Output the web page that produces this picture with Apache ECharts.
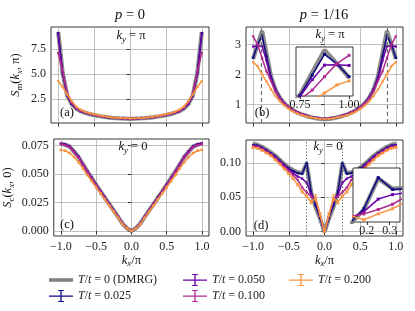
<!DOCTYPE html>
<html><head><meta charset="utf-8">
<script src="https://cdn.jsdelivr.net/npm/echarts@6/dist/echarts.min.js"></script>
<style>html,body{margin:0;padding:0;background:#fff}#c{width:415px;height:311px}</style>
</head><body><div id="c"></div>
<script>
// ---------------- DATA ----------------
const kx = [-1,-0.9375,-0.875,-0.8125,-0.75,-0.6875,-0.625,-0.5625,-0.5,-0.4375,-0.375,-0.3125,-0.25,-0.1875,-0.125,-0.0625,0,0.0625,0.125,0.1875,0.25,0.3125,0.375,0.4375,0.5,0.5625,0.625,0.6875,0.75,0.8125,0.875,0.9375,1];
const seriesNames = ['T/t = 0 (DMRG)','T/t = 0.025','T/t = 0.050','T/t = 0.100','T/t = 0.200'];

// (a) p=0, ky=pi : S_m(kx,pi)
const aDMRG = [9.2,5.1,2.85,2.0,1.55,1.28,1.11,0.99,0.89,0.8,0.73,0.67,0.62,0.58,0.55,0.53,0.52,0.53,0.55,0.58,0.62,0.67,0.73,0.8,0.89,0.99,1.11,1.28,1.55,2.0,2.85,5.1,9.2];
const aT025 = [9.1,5.1,2.85,2.0,1.56,1.29,1.12,1.0,0.9,0.81,0.74,0.68,0.63,0.59,0.56,0.54,0.53,0.54,0.56,0.59,0.63,0.68,0.74,0.81,0.9,1.0,1.12,1.29,1.56,2.0,2.85,5.1,9.1];
const aT050 = [9.0,5.1,2.88,2.02,1.57,1.29,1.12,1.0,0.9,0.81,0.74,0.68,0.63,0.59,0.56,0.54,0.53,0.54,0.56,0.59,0.63,0.68,0.74,0.81,0.9,1.0,1.12,1.29,1.57,2.02,2.88,5.1,9.0];
const aT100 = [7.1,5.25,3.05,2.12,1.62,1.33,1.15,1.02,0.92,0.83,0.75,0.69,0.64,0.6,0.57,0.55,0.54,0.55,0.57,0.6,0.64,0.69,0.75,0.83,0.92,1.02,1.15,1.33,1.62,2.12,3.05,5.25,7.1];
const aT200 = [4.3,3.7,2.95,2.3,1.74,1.42,1.22,1.08,0.97,0.87,0.79,0.72,0.66,0.62,0.59,0.57,0.56,0.57,0.59,0.62,0.66,0.72,0.79,0.87,0.97,1.08,1.22,1.42,1.74,2.3,2.95,3.7,4.3];

// (b) p=1/16, ky=pi
const bDMRG = [2.52,3.0,3.45,2.7,1.93,1.5,1.22,1.03,0.9,0.8,0.72,0.66,0.61,0.57,0.54,0.52,0.51,0.52,0.54,0.57,0.61,0.66,0.72,0.8,0.9,1.03,1.22,1.5,1.93,2.7,3.45,3.0,2.52];
const bT025 = [2.55,2.99,3.3,2.6,1.92,1.5,1.23,1.04,0.91,0.81,0.73,0.67,0.62,0.58,0.55,0.53,0.52,0.53,0.55,0.58,0.62,0.67,0.73,0.81,0.91,1.04,1.23,1.5,1.92,2.6,3.3,2.99,2.55];
const bT050 = [2.93,2.95,2.94,2.45,1.88,1.48,1.22,1.04,0.91,0.81,0.73,0.67,0.62,0.58,0.55,0.53,0.52,0.53,0.55,0.58,0.62,0.67,0.73,0.81,0.91,1.04,1.22,1.48,1.88,2.45,2.94,2.95,2.93];
const bT100 = [3.27,2.99,2.55,2.1,1.78,1.44,1.2,1.03,0.91,0.81,0.73,0.67,0.62,0.58,0.55,0.53,0.52,0.53,0.55,0.58,0.62,0.67,0.73,0.81,0.91,1.03,1.2,1.44,1.78,2.1,2.55,2.99,3.27];
const bT200 = [2.41,2.27,2.0,1.76,1.5,1.28,1.1,0.96,0.85,0.76,0.69,0.64,0.6,0.57,0.54,0.52,0.51,0.52,0.54,0.57,0.6,0.64,0.69,0.76,0.85,0.96,1.1,1.28,1.5,1.76,2.0,2.27,2.41];

// (c) p=0, ky=0 : S_c(kx,0)
const cDMRG = [0.0764,0.0756,0.074,0.0696,0.0649,0.0585,0.0522,0.0464,0.0404,0.0347,0.0291,0.0234,0.0179,0.0122,0.0064,0.0024,0,0.0024,0.0064,0.0122,0.0179,0.0234,0.0291,0.0347,0.0404,0.0464,0.0522,0.0585,0.0649,0.0696,0.074,0.0756,0.0764];
const cT025 = [0.0765,0.0757,0.0741,0.0697,0.065,0.0586,0.0523,0.0465,0.0405,0.0348,0.0292,0.0235,0.018,0.0123,0.0065,0.0025,0,0.0025,0.0065,0.0123,0.018,0.0235,0.0292,0.0348,0.0405,0.0465,0.0523,0.0586,0.065,0.0697,0.0741,0.0757,0.0765];
const cT050 = [0.0767,0.0759,0.0743,0.0698,0.0651,0.0587,0.0524,0.0466,0.0406,0.0349,0.0293,0.0236,0.0181,0.0124,0.0066,0.0025,0,0.0025,0.0066,0.0124,0.0181,0.0236,0.0293,0.0349,0.0406,0.0466,0.0524,0.0587,0.0651,0.0698,0.0743,0.0759,0.0767];
const cT100 = [0.0761,0.0752,0.0734,0.069,0.0644,0.0581,0.0519,0.0461,0.0402,0.0345,0.0289,0.0232,0.0177,0.0121,0.0064,0.0025,0,0.0025,0.0064,0.0121,0.0177,0.0232,0.0289,0.0345,0.0402,0.0461,0.0519,0.0581,0.0644,0.069,0.0734,0.0752,0.0761];
const cT200 = [0.071,0.0703,0.0683,0.0648,0.0603,0.0548,0.049,0.0437,0.0383,0.033,0.0277,0.0222,0.017,0.0115,0.006,0.0022,0,0.0022,0.006,0.0115,0.017,0.0222,0.0277,0.033,0.0383,0.0437,0.049,0.0548,0.0603,0.0648,0.0683,0.0703,0.071];
const cErr200 = [0.0006,0.0006,0.0006,0.0006,0.0006,0.0006,0.0006,0.0006,0.0006,0.0006,0.0006,0.0005,0.0005,0.0004,0.0004,0.0003,0.0001,0.0003,0.0004,0.0004,0.0005,0.0005,0.0006,0.0006,0.0006,0.0006,0.0006,0.0006,0.0006,0.0006,0.0006,0.0006,0.0006];

// (d) p=1/16, ky=0
const dDMRG = [0.128,0.126,0.123,0.119,0.115,0.11,0.104,0.098,0.093,0.089,0.086,0.085,0.099,0.057,0.036,0.019,0,0.019,0.036,0.057,0.099,0.085,0.086,0.089,0.093,0.098,0.104,0.11,0.115,0.119,0.123,0.126,0.128];
const dT025 = [0.126,0.125,0.122,0.118,0.114,0.109,0.103,0.097,0.092,0.088,0.085,0.084,0.1,0.058,0.038,0.02,0,0.02,0.038,0.058,0.1,0.084,0.085,0.088,0.092,0.097,0.103,0.109,0.114,0.118,0.122,0.125,0.126];
const dT050 = [0.125,0.124,0.121,0.117,0.113,0.108,0.102,0.096,0.09,0.085,0.08,0.077,0.071,0.054,0.045,0.023,0,0.023,0.045,0.054,0.071,0.077,0.08,0.085,0.09,0.096,0.102,0.108,0.113,0.117,0.121,0.124,0.125];
const dT100 = [0.124,0.123,0.12,0.116,0.112,0.106,0.1,0.094,0.088,0.082,0.075,0.064,0.057,0.051,0.047,0.024,0,0.024,0.047,0.051,0.057,0.064,0.075,0.082,0.088,0.094,0.1,0.106,0.112,0.116,0.12,0.123,0.124];
const dT200 = [0.122,0.121,0.118,0.114,0.11,0.104,0.098,0.091,0.084,0.077,0.068,0.058,0.051,0.043,0.049,0.025,0,0.025,0.049,0.043,0.051,0.058,0.068,0.077,0.084,0.091,0.098,0.104,0.11,0.114,0.118,0.121,0.122];
const dErr200 = [0.001,0.001,0.001,0.001,0.001,0.001,0.001,0.001,0.001,0.001,0.0015,0.0015,0.0015,0.0025,0.0045,0.0025,0.0005,0.0025,0.0045,0.0025,0.0015,0.0015,0.0015,0.001,0.001,0.001,0.001,0.001,0.001,0.001,0.001,0.001,0.001];

// reference lines and ticks
const stripeLines = [-0.875, 0.875];
const chargeLines = [-0.25, 0.25];
const xTicks = [-1, -0.5, 0, 0.5, 1];
const aTicks = [2.5, 5.0, 7.5];
const bTicks = [1, 2, 3];
const cTicks = [0, 0.025, 0.05, 0.075];
const dTicks = [0, 0.05, 0.10];
const insetBTicks = [0.75, 1.0];
const insetDTicks = [0.2, 0.3];

// ---------------- STYLE ----------------
const FONT = 'Liberation Serif';
const colors = ['#808080','#0d0887','#6a00a8','#b12a90','#f89540'];
const FS = 12;
function mkRich(sz){
  return {
    i:{fontFamily:FONT,fontStyle:'italic',fontSize:sz,lineHeight:sz+4,color:'#111'},
    n:{fontFamily:FONT,fontSize:sz,lineHeight:sz+4,color:'#111'},
    si:{fontFamily:FONT,fontStyle:'italic',fontSize:sz*0.7,lineHeight:8,verticalAlign:'bottom',color:'#111'},
    s:{fontFamily:FONT,fontSize:sz*0.7,lineHeight:8,verticalAlign:'bottom',color:'#111'}
  };
}
const rich = mkRich(12.5);
const richT = mkRich(14.5);
const fmtMinus = s => s.replace('-', '\u2212');

function xAxisMain(gi, showLabel, name){
  return {type:'value', gridIndex:gi, min:-1.1, max:1.1,
    axisLine:{show:false},
    axisTick:{show:true, customValues:xTicks, length:3.5, lineStyle:{color:'#222', width:0.9}},
    axisLabel:{show:showLabel, customValues:xTicks, margin:5, fontFamily:FONT, fontSize:FS, color:'#222', formatter:v=>fmtMinus(v.toFixed(1))},
    splitLine:{show:true, lineStyle:{color:'#b0b0b0', width:0.8}},
    name: name || '', nameLocation:'middle', nameGap:16,
    nameTextStyle:{rich:rich}
  };
}
function yAxisMain(gi, min, max, ticks, dec, name, gap){
  return {type:'value', gridIndex:gi, min:min, max:max,
    axisLine:{show:false},
    axisTick:{show:true, customValues:ticks, length:3.5, lineStyle:{color:'#222', width:0.9}},
    axisLabel:{show:true, customValues:ticks, margin:5, fontFamily:FONT, fontSize:FS, color:'#222', formatter:v=>fmtMinus(v.toFixed(dec))},
    splitLine:{show:true, lineStyle:{color:'#b0b0b0', width:0.8}},
    name: name || '', nameLocation:'middle', nameGap:gap || 30,
    nameTextStyle:{rich:rich}
  };
}

const grids = [
  {left:51, top:27, width:158, height:96},
  {left:246, top:27, width:157, height:96},
  {left:51, top:139, width:158, height:97},
  {left:246, top:140, width:157, height:96},
  {left:296, top:47, width:57, height:49, zlevel:1},
  {left:353, top:168, width:47, height:54, zlevel:1}
].map(g => Object.assign({show:true, borderColor:'#222', borderWidth:0.9, backgroundColor: g.zlevel ? '#fff' : 'transparent', containLabel:false}, g));

const xAxes = [
  xAxisMain(0, false),
  xAxisMain(1, false),
  xAxisMain(2, true, '{i|k}{si|x}{n|/π}'),
  xAxisMain(3, true, '{i|k}{si|x}{n|/π}'),
  {type:'value', gridIndex:4, min:0.73, max:1.02, zlevel:1,
    axisLine:{show:false}, splitLine:{show:false},
    axisTick:{show:true, customValues:insetBTicks, length:3, lineStyle:{color:'#222', width:0.9}},
    axisLabel:{show:true, customValues:insetBTicks, margin:3, fontFamily:FONT, fontSize:FS, color:'#222', formatter:v=>v.toFixed(2)}},
  {type:'value', gridIndex:5, min:0.14, max:0.345, zlevel:1,
    axisLine:{show:false}, splitLine:{show:false},
    axisTick:{show:true, customValues:insetDTicks, length:3, lineStyle:{color:'#222', width:0.9}},
    axisLabel:{show:true, customValues:insetDTicks, margin:3, fontFamily:FONT, fontSize:FS, color:'#222', formatter:v=>v.toFixed(1)}}
];
const yAxes = [
  yAxisMain(0, 0.1, 9.7, aTicks, 1, '{i|S}{s|m}{n|(}{i|k}{si|x}{n|, π)}', 27),
  yAxisMain(1, 0.38, 3.58, bTicks, 0),
  yAxisMain(2, -0.0044, 0.0806, cTicks, 3, '{i|S}{s|c}{n|(}{i|k}{si|x}{n|, 0)}', 38),
  yAxisMain(3, -0.0062, 0.133, dTicks, 2),
  {type:'value', gridIndex:4, min:1.9, max:3.55, zlevel:1, axisLine:{show:false}, axisTick:{show:false}, axisLabel:{show:false}, splitLine:{show:false}},
  {type:'value', gridIndex:5, min:0.04, max:0.113, zlevel:1, axisLine:{show:false}, axisTick:{show:false}, axisLabel:{show:false}, splitLine:{show:false}}
];

const panelData = [
  [aDMRG,aT025,aT050,aT100,aT200],
  [bDMRG,bT025,bT050,bT100,bT200],
  [cDMRG,cT025,cT050,cT100,cT200],
  [dDMRG,dT025,dT050,dT100,dT200],
  [bDMRG,bT025,bT050,bT100,bT200],
  [dDMRG,dT025,dT050,dT100,dT200]
];
const series = [];
panelData.forEach((arrs, gi) => {
  const inset = gi >= 4;
  arrs.forEach((vals, si) => {
    const s = {
      type:'line', name:seriesNames[si], xAxisIndex:gi, yAxisIndex:gi,
      data: kx.map((x,i)=>[x, vals[i]]),
      animation:false, silent:true, clip:true,
      zlevel: inset ? 1 : 0, z: 2 + si,
      color: colors[si]
    };
    if (si === 0) {
      s.showSymbol = false; s.symbol = 'none';
      s.lineStyle = {width:4.2, color:'#7d7d7d', opacity:0.9};
    } else {
      s.symbol = 'rect'; s.symbolSize = inset ? 3 : 2.2; s.showSymbol = true;
      s.lineStyle = {width:1.5, color:colors[si]};
      s.itemStyle = {color:colors[si]};
    }
    if (si === 0 && (gi === 1 || gi === 4)) {
      s.markLine = {silent:true, symbol:'none', animation:false, label:{show:false},
        lineStyle:{type:[4,3], color:'#6e6e6e', width:1.2},
        data: stripeLines.map(v=>({xAxis:v}))};
    }
    if (si === 0 && (gi === 3 || gi === 5)) {
      s.markLine = {silent:true, symbol:'none', animation:false, label:{show:false},
        lineStyle:{type:[1.2,2], color:'#555', width:1},
        data: chargeLines.map(v=>({xAxis:v}))};
    }
    series.push(s);
  });
});

function errSeries(gi, vals, errs, color, cap){
  return {type:'custom', xAxisIndex:gi, yAxisIndex:gi, silent:true, animation:false, clip:true,
    z:8,
    data: kx.map((x,i)=>[x, vals[i]-errs[i], vals[i]+errs[i]]),
    encode:{x:0, y:[1,2]},
    renderItem:(params, api)=>{
      const x = api.value(0);
      const lo = api.coord([x, api.value(1)]);
      const hi = api.coord([x, api.value(2)]);
      const st = {stroke:color, lineWidth:1};
      return {type:'group', children:[
        {type:'line', shape:{x1:lo[0], y1:lo[1], x2:hi[0], y2:hi[1]}, style:st},
        {type:'line', shape:{x1:lo[0]-cap, y1:lo[1], x2:lo[0]+cap, y2:lo[1]}, style:st},
        {type:'line', shape:{x1:hi[0]-cap, y1:hi[1], x2:hi[0]+cap, y2:hi[1]}, style:st}
      ]};
    }};
}
series.push(errSeries(2, cT200, cErr200, colors[4], 1.2));
series.push(errSeries(3, dT200, dErr200, colors[4], 1.8));

const ebIcon = 'path://M0,5.4h24v1.3h-24z M11.35,0h1.3v12h-1.3z M9.2,0h5.6v1.1h-5.6z M9.2,10.9h5.6v1.1h-5.6z';
const lineIcon = 'path://M0,0h24v3.6h-24z';
function legendItem(n){ return {name:n, icon: n === seriesNames[0] ? lineIcon : ebIcon}; }
const legendBase = {orient:'vertical', top:269, itemWidth:24, itemHeight:12, itemGap:4, selectedMode:false,
  textStyle:{fontFamily:FONT, fontSize:FS, color:'#222', rich:{i:{fontFamily:FONT, fontStyle:'italic', fontSize:FS, color:'#222'}}},
  formatter: n => '{i|T}/{i|t}' + n.slice(3)};
const legends = [
  Object.assign({left:44, data:[seriesNames[0], seriesNames[1]].map(legendItem)}, legendBase),
  Object.assign({left:178, data:[seriesNames[2], seriesNames[3]].map(legendItem)}, legendBase),
  Object.assign({left:284, data:[seriesNames[4]].map(legendItem)}, legendBase)
];

function txt(x, y, text, r){
  return {type:'text', x:x, y:y, z:100, zlevel:2, silent:true,
    style:{text:text, align:'center', verticalAlign:'middle', rich:r||rich, fontFamily:FONT, fontSize:12.5, fill:'#111'}};
}
const graphics = [
  txt(130, 15, '{i|p}{n| = 0}', richT),
  txt(324, 15, '{i|p}{n| = 1/16}', richT),
  txt(131, 36, '{i|k}{si|y}{n| = π}'),
  txt(330, 35, '{i|k}{si|y}{n| = π}'),
  txt(133, 147, '{i|k}{si|y}{n| = 0}'),
  txt(328, 147, '{i|k}{si|y}{n| = 0}'),
  txt(67, 113, '{n|(a)}'),
  txt(262, 113, '{n|(b)}'),
  txt(67, 225, '{n|(c)}'),
  txt(261, 226, '{n|(d)}')
];

const chart = echarts.init(document.getElementById('c'), null, {renderer:'canvas'});
chart.setOption({
  animation:false,
  backgroundColor:'#fff',
  grid: grids, xAxis: xAxes, yAxis: yAxes, series: series,
  legend: legends, graphic: graphics
});
</script></body></html>
